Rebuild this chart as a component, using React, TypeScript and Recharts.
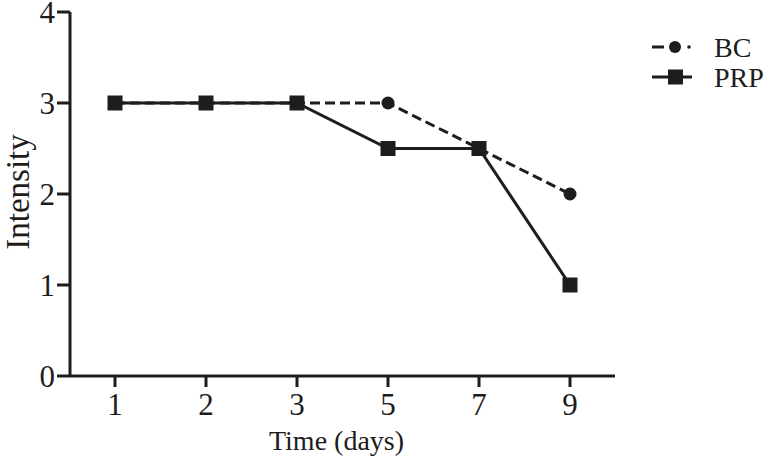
import React from 'react';
import { LineChart, Line, XAxis, YAxis, Legend } from 'recharts';

const days = ['1', '2', '3', '5', '7', '9'];
const bcValues = [3, 3, 3, 3, 2.5, 2];
const prpValues = [3, 3, 3, 2.5, 2.5, 1];
const yTicks = [0, 1, 2, 3, 4];
const seriesNames = ['BC', 'PRP'];

const data = days.map((d, i) => ({ day: d, BC: bcValues[i], PRP: prpValues[i] }));

const INK = '#1e1c1d';
const FONT = '"Liberation Serif", "Times New Roman", serif';

const SquareDot = (props: any) => {
  const { cx, cy } = props;
  if (cx == null || cy == null) return null;
  return <rect x={cx - 7.5} y={cy - 7.5} width={15} height={15} fill={INK} />;
};

const CircleDot = (props: any) => {
  const { cx, cy } = props;
  if (cx == null || cy == null) return null;
  return <circle cx={cx} cy={cy} r={6.5} fill={INK} />;
};

const LegendContent = () => (
  <svg width={126} height={62} style={{ display: 'block', overflow: 'visible' }}>
    <g>
      <line x1={7} y1={17} x2={19} y2={17} stroke={INK} strokeWidth={3} />
      <circle cx={30} cy={17} r={6} fill={INK} />
      <circle cx={44} cy={17} r={1.8} fill={INK} />
      <text x={69} y={17} dominantBaseline="central" fontFamily={FONT} fontSize={28} fill={INK}>
        {seriesNames[0]}
      </text>
    </g>
    <g>
      <line x1={7} y1={47} x2={47} y2={47} stroke={INK} strokeWidth={3} />
      <rect x={23} y={39.5} width={15} height={15} fill={INK} />
      <text x={69} y={47} dominantBaseline="central" fontFamily={FONT} fontSize={28} fill={INK}>
        {seriesNames[1]}
      </text>
    </g>
  </svg>
);

const YLabel = (props: any) => {
  const vb = props.viewBox || {};
  const cx = (vb.x ?? 0) + 18;
  const cy = (vb.y ?? 0) + (vb.height ?? 0) / 2 - 2;
  return (
    <text
      x={cx}
      y={cy}
      transform={`rotate(-90 ${cx} ${cy})`}
      textAnchor="middle"
      dominantBaseline="central"
      fontFamily={FONT}
      fontSize={33}
      fill={INK}
    >
      Intensity
    </text>
  );
};

const XLabel = (props: any) => {
  const vb = props.viewBox || {};
  const cx = (vb.x ?? 0) + (vb.width ?? 0) / 2 - 6;
  const cy = (vb.y ?? 0) + 74;
  return (
    <text x={cx} y={cy} textAnchor="middle" fontFamily={FONT} fontSize={28} fill={INK}>
      Time (days)
    </text>
  );
};

export default function App() {
  return (
    <div style={{ position: 'absolute', left: 0, top: 0, width: 771, height: 459, background: '#fff' }}>
      <LineChart width={771} height={459} data={data} margin={{ top: 12, right: 156, bottom: 0, left: 0 }}>
        <XAxis
          dataKey="day"
          height={83}
          padding={{ left: 45, right: 45 }}
          axisLine={{ stroke: INK, strokeWidth: 3 }}
          tickLine={{ stroke: INK, strokeWidth: 3 }}
          tickSize={11}
          tickMargin={6}
          tick={{ fill: INK, fontFamily: FONT, fontSize: 31 }}
          label={<XLabel />}
        />
        <YAxis
          width={70}
          domain={[0, 4]}
          ticks={yTicks}
          interval={0}
          axisLine={{ stroke: INK, strokeWidth: 3 }}
          tickLine={{ stroke: INK, strokeWidth: 3 }}
          tickSize={13}
          tickMargin={2}
          tick={{ fill: INK, fontFamily: FONT, fontSize: 31 }}
          label={<YLabel />}
        />
        <Legend
          layout="vertical"
          align="center"
          verticalAlign="middle"
          wrapperStyle={{ position: 'absolute', left: 645, top: 30, width: 126, height: 62 }}
          content={<LegendContent />}
        />
        <Line
          type="linear"
          dataKey="BC"
          stroke={INK}
          strokeWidth={3}
          strokeDasharray="10 5"
          dot={<CircleDot />}
          activeDot={false}
          isAnimationActive={false}
        />
        <Line
          type="linear"
          dataKey="PRP"
          stroke={INK}
          strokeWidth={3}
          dot={<SquareDot />}
          activeDot={false}
          isAnimationActive={false}
        />
      </LineChart>
    </div>
  );
}
